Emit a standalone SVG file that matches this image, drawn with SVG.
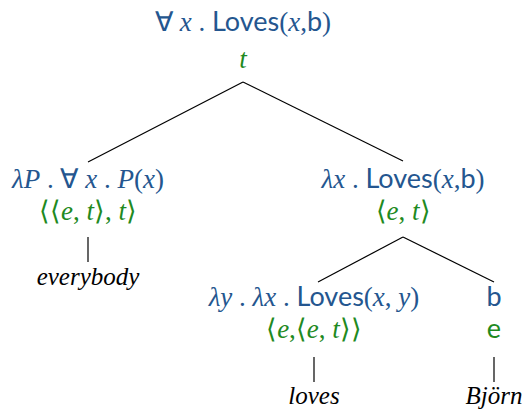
<svg xmlns="http://www.w3.org/2000/svg" width="529" height="412" viewBox="0 0 529 412">
<style>
.sem{fill:#24568f;font-family:'Liberation Serif',serif;font-size:27px;text-anchor:middle}
.ty{fill:#1f8a1f;font-family:'Liberation Serif',serif;font-size:27px;text-anchor:middle}
.i{font-style:italic}
.sf{font-family:Lato,'Open Sans',sans-serif;font-style:normal}
.w{fill:#000;font-family:'Liberation Serif',serif;font-style:italic;font-size:25px;text-anchor:middle}
.e{stroke:#000;stroke-width:1.2;fill:none}
</style>
<rect width="529" height="412" fill="#fff"/>
<g id="edges">
<line class="e" x1="243" y1="82" x2="88" y2="162"/>
<line class="e" x1="243" y1="82" x2="403" y2="161"/>
<line class="e" x1="88" y1="237" x2="88" y2="262"/>
<line class="e" x1="403" y1="237" x2="318" y2="282"/>
<line class="e" x1="403" y1="237" x2="494" y2="282"/>
<line class="e" x1="314" y1="357" x2="314" y2="382"/>
<line class="e" x1="494" y1="357" x2="494" y2="382"/>
</g>
<g id="root">
<text class="sem" x="243" y="31">∀ <tspan class="i">x</tspan> . <tspan class="sf">Loves</tspan>(<tspan class="i">x</tspan>,<tspan class="sf">b</tspan>)</text>
<text class="ty i" x="243" y="68">t</text>
</g>
<g id="everybody-node">
<text class="sem" x="88" y="188"><tspan class="i">λP</tspan> . ∀ <tspan class="i">x</tspan> . <tspan class="i">P</tspan>(<tspan class="i">x</tspan>)</text>
<text class="ty" x="88" y="220">⟨⟨<tspan class="i">e</tspan>, <tspan class="i">t</tspan>⟩, <tspan class="i">t</tspan>⟩</text>
</g>
<g id="everybody">
<text class="w" x="88" y="285">everybody</text>
</g>
<g id="vp">
<text class="sem" x="403" y="188"><tspan class="i">λx</tspan> . <tspan class="sf">Loves</tspan>(<tspan class="i">x</tspan>,<tspan class="sf">b</tspan>)</text>
<text class="ty" x="403" y="220">⟨<tspan class="i">e</tspan>, <tspan class="i">t</tspan>⟩</text>
</g>
<g id="verb">
<text class="sem" x="314" y="306"><tspan class="i">λy</tspan> . <tspan class="i">λx</tspan> . <tspan class="sf">Loves</tspan>(<tspan class="i">x</tspan>, <tspan class="i">y</tspan>)</text>
<text class="ty" x="314" y="338">⟨<tspan class="i">e</tspan>,⟨<tspan class="i">e</tspan>, <tspan class="i">t</tspan>⟩⟩</text>
</g>
<g id="loves">
<text class="w" x="314" y="404">loves</text>
</g>
<g id="bjorn-node">
<text class="sem sf" x="494" y="306">b</text>
<text class="ty sf" x="494" y="338">e</text>
</g>
<g id="bjorn">
<text class="w" x="494" y="404">Björn</text>
</g>
</svg>
